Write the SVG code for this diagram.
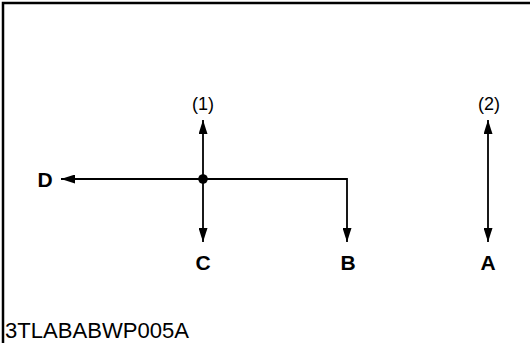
<svg xmlns="http://www.w3.org/2000/svg" width="530" height="343" viewBox="0 0 530 343">
<style>
.lbl{font-family:"Liberation Sans",Arial,sans-serif;font-weight:bold;font-size:21px;fill:#000}
.num{font-family:"Liberation Sans",Arial,sans-serif;font-size:18px;fill:#000}
.cap{font-family:"Liberation Sans",Arial,sans-serif;font-size:22px;fill:#000}
.ln{stroke:#000;stroke-width:1.8;fill:none}
</style>
<defs>
<marker id="ah" viewBox="0 0 10 10" refX="10" refY="5" markerWidth="14" markerHeight="9" markerUnits="userSpaceOnUse" orient="auto-start-reverse" preserveAspectRatio="none">
<path d="M0,0 L10,5 L0,10 Z" fill="#000"/>
</marker>
</defs>
<rect width="530" height="343" fill="#fff"/>
<path d="M3,343 V3 H530" stroke="#000" stroke-width="2.5" fill="none"/>
<g id="connectors">
<path class="ln" d="M203,179 V120" marker-end="url(#ah)"/>
<path class="ln" d="M203,179 V242" marker-end="url(#ah)"/>
<path class="ln" d="M203,179 H61" marker-end="url(#ah)"/>
<path class="ln" d="M203,179 H347 V242" marker-end="url(#ah)"/>
<path class="ln" d="M488,120 V242" marker-start="url(#ah)" marker-end="url(#ah)"/>
</g>
<g id="junction"><circle cx="203" cy="179" r="4.8" fill="#000"/></g>
<g id="n1"><text class="num" x="203" y="110" text-anchor="middle">(1)</text></g>
<g id="n2"><text class="num" x="489" y="110" text-anchor="middle">(2)</text></g>
<g id="D"><text class="lbl" x="45" y="187" text-anchor="middle">D</text></g>
<g id="C"><text class="lbl" x="203" y="270" text-anchor="middle">C</text></g>
<g id="B"><text class="lbl" x="348" y="270" text-anchor="middle">B</text></g>
<g id="A"><text class="lbl" x="488" y="270" text-anchor="middle">A</text></g>
<g id="caption"><text class="cap" x="5" y="338" textLength="184" lengthAdjust="spacingAndGlyphs">3TLABABWP005A</text></g>
</svg>
